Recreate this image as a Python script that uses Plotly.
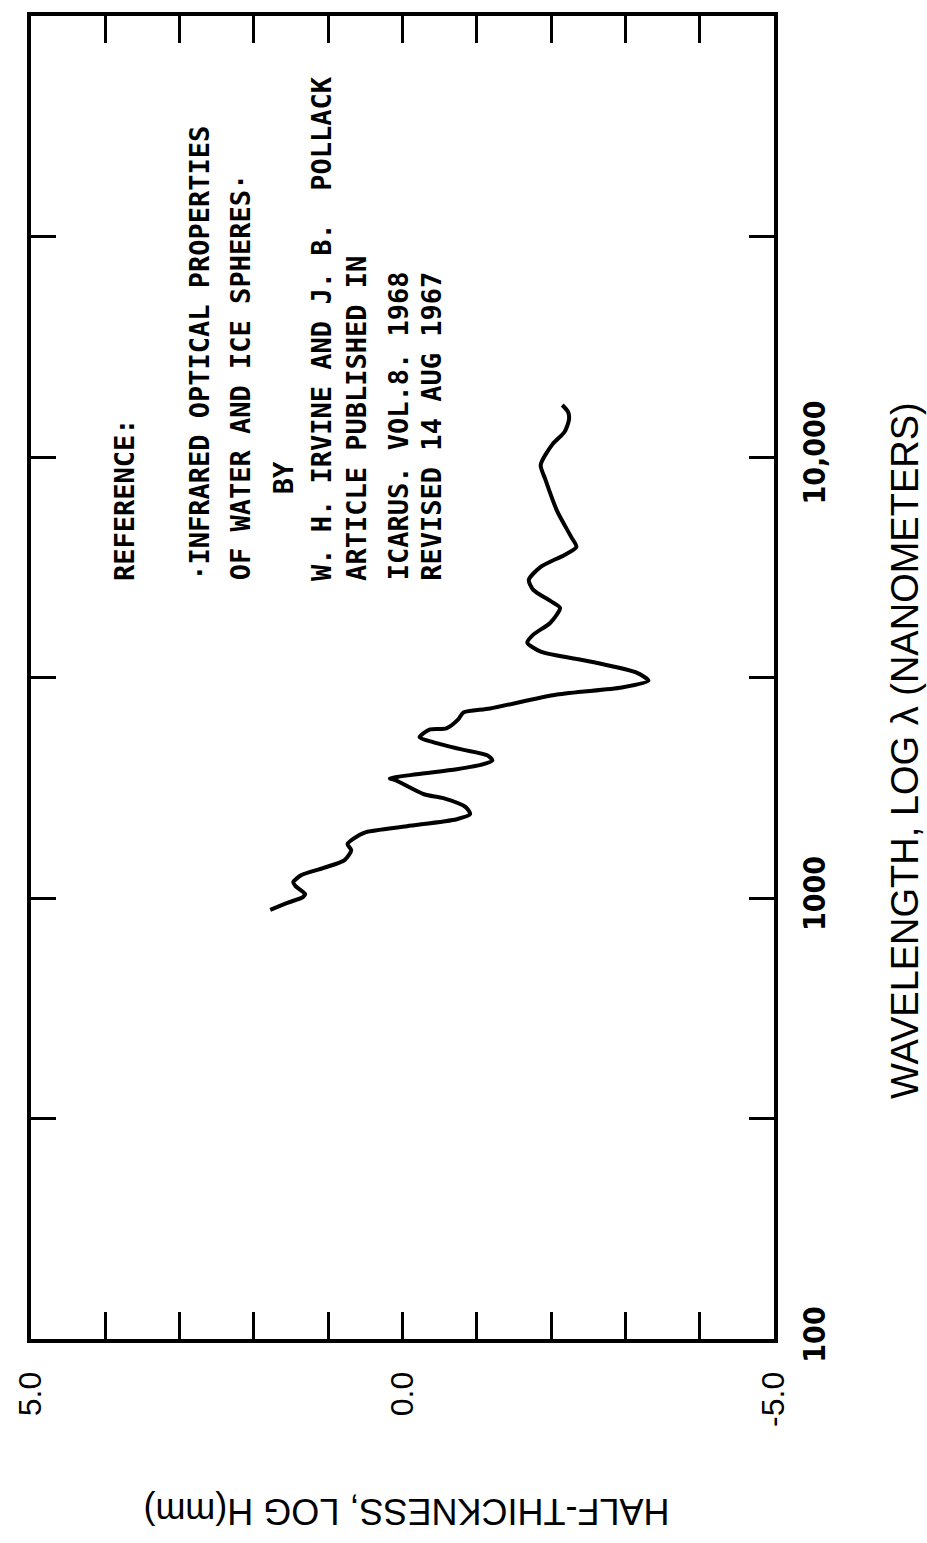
import math
import plotly.graph_objects as go

# ---- data ----
wavelength_nm = [940, 975, 1005, 1021, 1064, 1086, 1127, 1169, 1219, 1284, 1325, 1389, 1411,
                 1455, 1509, 1549, 1607, 1684, 1719, 1849, 1867, 1908, 1959, 2011, 2052, 2107,
                 2175, 2254, 2314, 2411, 2425, 2541, 2635, 2690, 2894, 3002, 3111, 3243, 3434,
                 3620, 3793, 3955, 4209, 4550, 4717, 4998, 5267, 5634, 5998, 6253, 6590, 7548,
                 8919, 9589, 10698, 11393, 12130, 12640, 13120]
log_h = [1.78, 1.55, 1.34, 1.31, 1.44, 1.47, 1.36, 1.07, 0.78, 0.69, 0.74, 0.58, 0.49,
         -0.06, -0.73, -0.91, -0.85, -0.55, -0.29, 0.09, 0.17, -0.19, -0.73, -1.09, -1.21, -1.14,
         -0.78, -0.42, -0.23, -0.37, -0.59, -0.75, -0.82, -1.18, -2.08, -2.95, -3.31, -3.15, -2.54,
         -1.86, -1.68, -1.76, -1.99, -2.12, -1.99, -1.76, -1.70, -1.86, -2.18, -2.34, -2.27, -2.08,
         -1.92, -1.86, -2.02, -2.18, -2.24, -2.23, -2.15]

x_tickvals = [5, 4, 3, 2, 1, 0, -1, -2, -3, -4, -5]
x_ticktext = ["5.0", "", "", "", "", "0.0", "", "", "", "", "-5.0"]
y_tickvals = [100, 316.23, 1000, 3162.3, 10000, 31623, 100000]
y_ticktext = ["100", "", "1000", "", "10,000", "", ""]

ref_lines = ["REFERENCE:",
             "\u00b7INFRARED OPTICAL PROPERTIES",
             "OF WATER AND ICE SPHERES\u00b7",
             "BY",
             "W. H. IRVINE AND J. B.\u00a0\u00a0POLLACK",
             "ARTICLE PUBLISHED IN",
             "ICARUS. VOL.8. 1968",
             "REVISED 14 AUG 1967"]
ref_line_x = [3.75, 2.73, 2.18, 1.61, 1.10, 0.63, 0.06, -0.39]
ref_line_start_nm = [5188, 5188, 5188, 8166, 5188, 5188, 5188, 5188]

x_title = "HALF-THICKNESS, LOG H(mm)"
y_title = "WAVELENGTH, LOG \u03bb (NANOMETERS)"

# ---- figure ----
fig = go.Figure()
fig.add_trace(go.Scatter(x=log_h, y=wavelength_nm, mode="lines",
                         line=dict(color="black", width=4, shape="spline", smoothing=0.7),
                         showlegend=False, hoverinfo="skip"))

mono = "DejaVu Sans Mono, Liberation Mono, monospace"
narrow = "Liberation Sans Narrow, DejaVu Sans Condensed, Arial Narrow, sans-serif"
plain = "Liberation Sans, Arial, Helvetica, sans-serif"

for txt, xv, yv in zip(ref_lines, ref_line_x, ref_line_start_nm):
    # annotations on a log axis are positioned in log10 units
    fig.add_annotation(x=xv, y=math.log10(yv), yref="y", xref="x", text="<b>" + txt + "</b>",
                       textangle=-90, showarrow=False, xanchor="center", yanchor="bottom",
                       font=dict(family=mono, size=27, color="black"))

fig.add_annotation(xref="paper", yref="paper", x=0.505, y=-0.130, text=x_title,
                   textangle=180, showarrow=False, xanchor="center", yanchor="middle",
                   font=dict(family=plain, size=36, color="black"))
fig.add_annotation(xref="paper", yref="paper", x=1.176, y=0.445, text=y_title,
                   textangle=-90, showarrow=False, xanchor="center", yanchor="middle",
                   font=dict(family=plain, size=38, color="black"))

fig.update_xaxes(range=[5, -5], tickmode="array", tickvals=x_tickvals, ticktext=x_ticktext,
                 ticks="inside", ticklen=27, tickwidth=3, tickcolor="black",
                 showline=True, linewidth=4, linecolor="black", mirror="ticks",
                 showgrid=False, zeroline=False, tickangle=-90, ticklabelstandoff=16,
                 tickfont=dict(family=plain, size=32, color="black"))
fig.update_yaxes(type="log", range=[2, 5], tickmode="array", tickvals=y_tickvals,
                 ticktext=y_ticktext, side="right",
                 ticks="inside", ticklen=25, tickwidth=3, tickcolor="black",
                 showline=True, linewidth=4, linecolor="black", mirror="ticks",
                 showgrid=False, zeroline=False, tickangle=-90, ticklabelstandoff=11,
                 tickfont=dict(family=narrow, size=30, color="black", weight="bold"))

fig.update_layout(width=927, height=1543, autosize=False,
                  margin=dict(l=23, r=153, t=13, b=204),
                  plot_bgcolor="white", paper_bgcolor="white")

fig.write_html("out.html")
